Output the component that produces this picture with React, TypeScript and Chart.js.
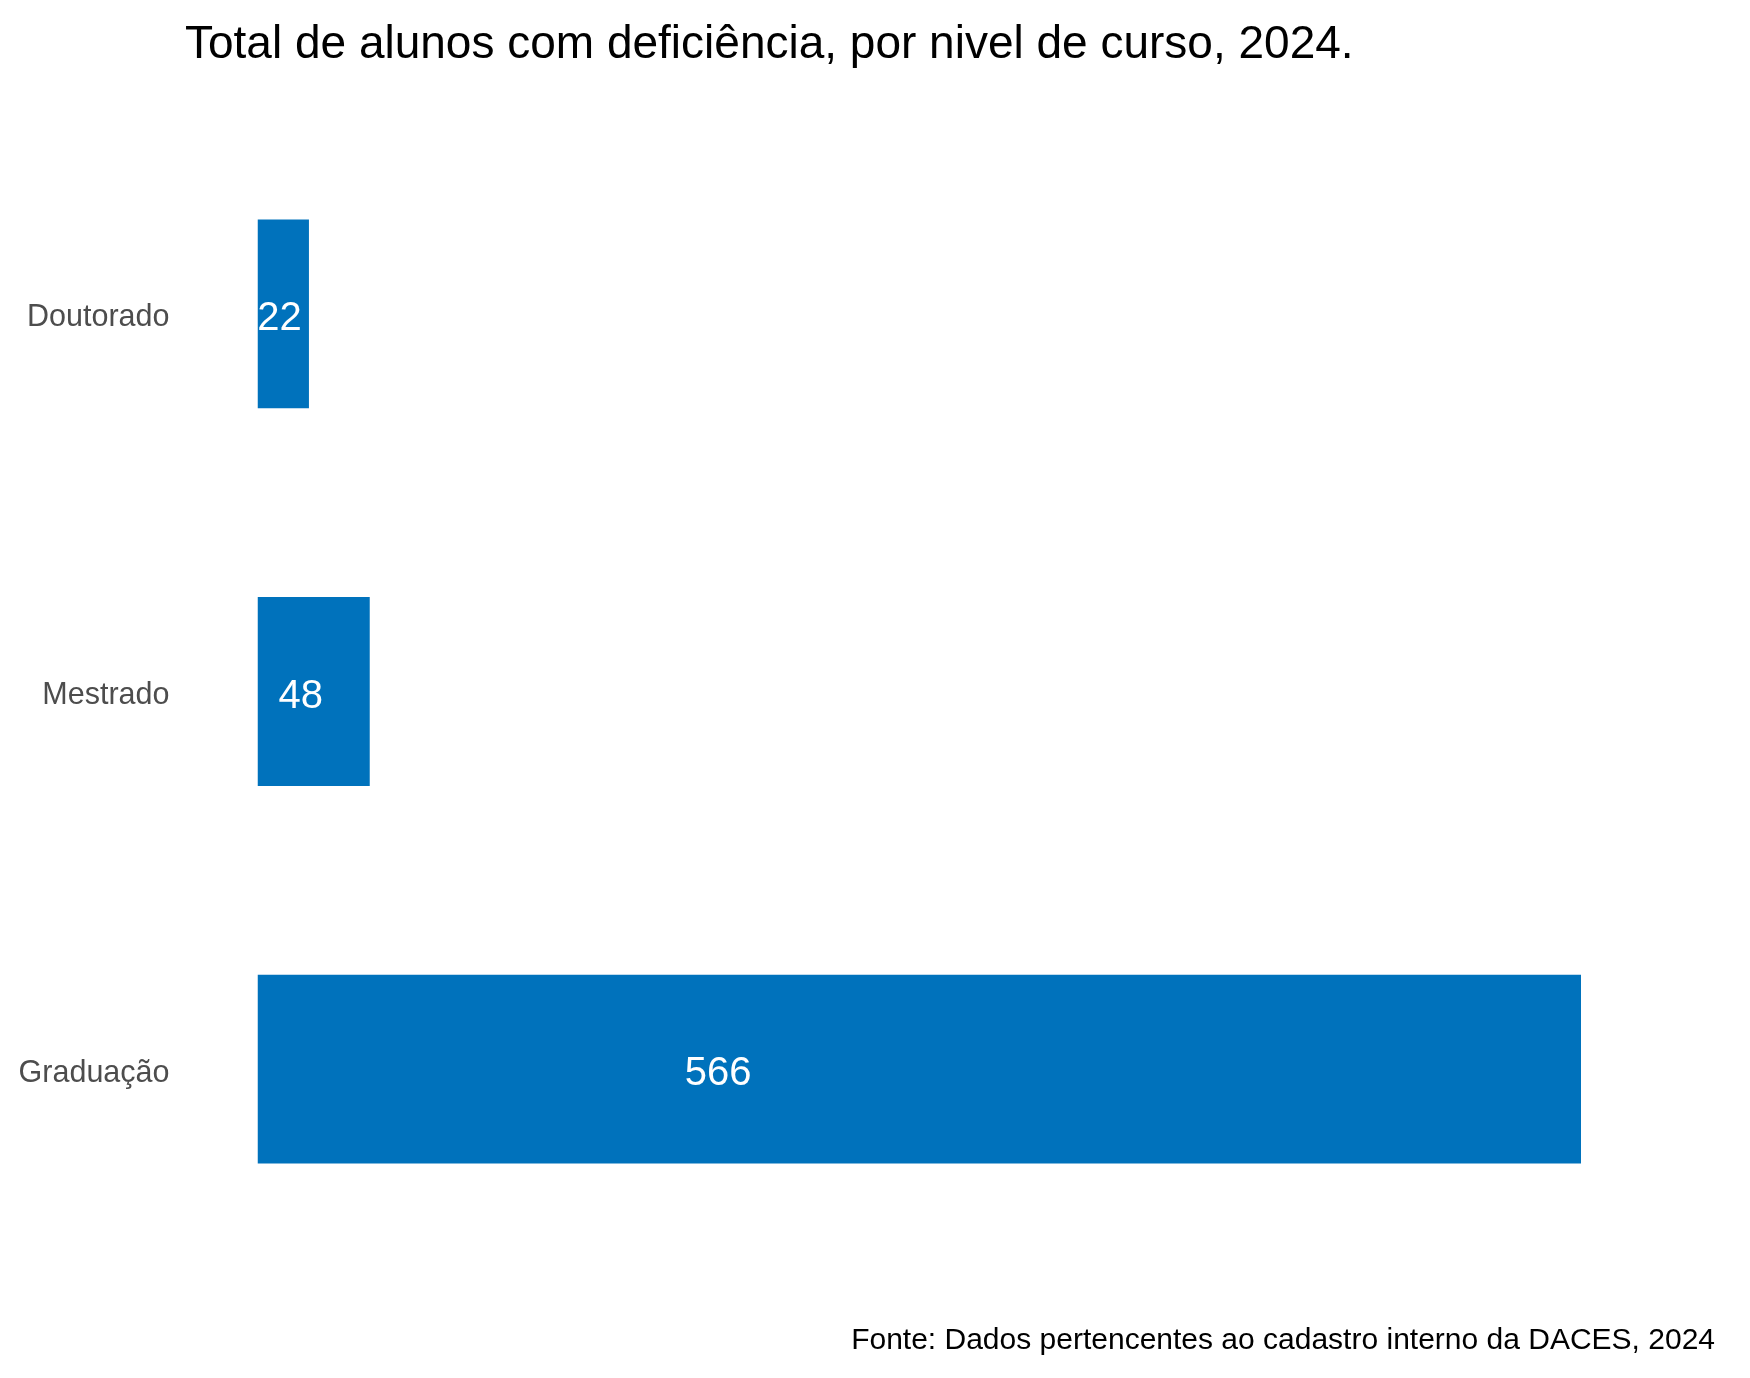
import React, { useEffect, useRef } from 'react';
import { Chart, registerables } from 'chart.js';

Chart.register(...registerables);

const categories = ['Doutorado', 'Mestrado', 'Graduação'];
const totals = [22, 48, 566];
// where the value labels sit along the x axis (same units as totals)
const labelAt = [9.4, 18.5, 197];

const titleText = 'Total de alunos com deficiência, por nivel de curso, 2024.';
const sourceText = 'Fonte: Dados pertencentes ao cadastro interno da DACES, 2024';

const FONT = '"Liberation Sans", Arial, Helvetica, sans-serif';
const BAR_COLOR = '#0072BC';

const textPlugin = {
  id: 'textPlugin',
  afterDatasetsDraw(chart: any) {
    const { ctx, scales } = chart;
    const meta = chart.getDatasetMeta(0);
    ctx.save();
    // value labels inside bars
    ctx.fillStyle = '#ffffff';
    ctx.font = `40px ${FONT}`;
    ctx.textAlign = 'center';
    ctx.textBaseline = 'middle';
    meta.data.forEach((bar: any, i: number) => {
      const x = scales.x.getPixelForValue(labelAt[i]);
      ctx.fillText(String(totals[i]), x, bar.y + 5);
    });
    // title
    ctx.fillStyle = '#000000';
    ctx.font = `46px ${FONT}`;
    ctx.textAlign = 'left';
    ctx.textBaseline = 'alphabetic';
    ctx.fillText(titleText, 185, 58);
    // source note
    ctx.font = `30px ${FONT}`;
    ctx.textAlign = 'right';
    ctx.fillText(sourceText, 1715, 1349);
    ctx.restore();
  },
};

export default function App() {
  const canvasRef = useRef<HTMLCanvasElement>(null);
  const chartRef = useRef<Chart | null>(null);

  useEffect(() => {
    document.body.style.margin = '0';
    if (!canvasRef.current) return;
    const ctx = canvasRef.current.getContext('2d');
    if (!ctx) return;

    if (chartRef.current) chartRef.current.destroy();

    chartRef.current = new Chart(ctx, {
      type: 'bar',
      data: {
        labels: categories,
        datasets: [
          {
            data: totals,
            backgroundColor: BAR_COLOR,
            borderWidth: 0,
            categoryPercentage: 1,
            barPercentage: 0.5,
          },
        ],
      },
      options: {
        indexAxis: 'y',
        responsive: false,
        devicePixelRatio: 1,
        animation: false,
        layout: {
          padding: { top: 125, bottom: 120, left: 0, right: 169 },
        },
        plugins: {
          legend: { display: false },
          tooltip: { enabled: false },
          title: { display: false },
        },
        scales: {
          x: {
            display: false,
            min: 0,
            max: 566,
          },
          y: {
            grid: { display: false, drawTicks: false },
            border: { display: false },
            ticks: {
              color: '#4d4d4d',
              padding: 88,
              labelOffset: 4,
              font: { size: 30.5, family: FONT },
            },
            afterFit: (scale: any) => {
              scale.width = 257.5;
            },
          },
        },
      },
      plugins: [textPlugin],
    });

    return () => {
      if (chartRef.current) {
        chartRef.current.destroy();
        chartRef.current = null;
      }
    };
  }, []);

  return (
    <div style={{ width: '1750px', height: '1378px', background: '#ffffff' }}>
      <canvas ref={canvasRef} width={1750} height={1378}></canvas>
    </div>
  );
}
